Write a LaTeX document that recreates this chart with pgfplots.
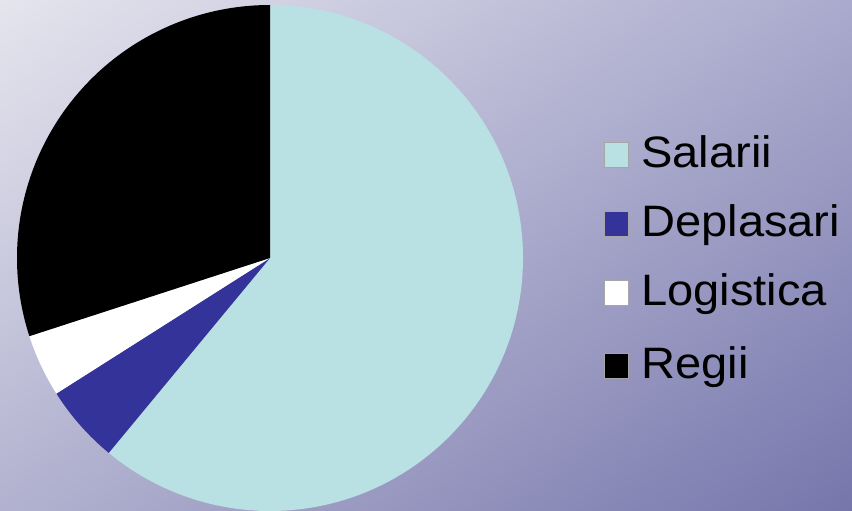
\documentclass[border=0pt]{standalone}
\usepackage{pgfplots}
\pgfplotsset{compat=1.18}
\usetikzlibrary{shadings}
\usepackage{fontspec}
\setmainfont{Liberation Sans}
\usepackage{graphicx}
\definecolor{salarii}{RGB}{185,224,226}
\definecolor{deplasari}{RGB}{51,51,153}
\definecolor{logistica}{RGB}{255,255,255}
\definecolor{regii}{RGB}{0,0,0}
\definecolor{bgtl}{RGB}{229,229,238}
\definecolor{bgbr}{RGB}{118,118,172}
\definecolor{bgur}{RGB}{170,170,205}
\definecolor{bgll}{RGB}{178,178,208}
\begin{document}
\begin{tikzpicture}
\begin{axis}[
  scale only axis, width=852pt, height=511pt,
  xmin=0, xmax=852, ymin=0, ymax=511,
  hide axis, clip=true,
]
% background
\shade[upper left=bgtl, lower right=bgbr, upper right=bgur, lower left=bgll]
  (axis cs:0,0) rectangle (axis cs:852,511);
% pie slices (values in percent), clockwise from 12 o'clock
\xdef\cumangle{90}
\foreach \v/\col in {61/salarii,5/deplasari,4/logistica,30/regii}{
  \pgfmathsetmacro\endangle{\cumangle-3.6*\v}
  \edef\temp{\noexpand\fill[\col] (axis cs:270,253) -- ++(\cumangle:253pt) arc[start angle=\cumangle, end angle=\endangle, radius=253pt] -- cycle;}
  \temp
  \xdef\cumangle{\endangle}
}
% legend
\foreach \y/\col/\lab in {344/salarii/Salarii,275/deplasari/Deplasari,206/logistica/Logistica,133/regii/Regii}{
  \edef\temp{\noexpand\filldraw[fill=\col, draw=gray!70, line width=0.4pt] (axis cs:604,\y) rectangle (axis cs:628.5,\y+24.5);
  \noexpand\node[anchor=base west, inner sep=0pt] at (axis cs:641,\y-1) {\noexpand\scalebox{1.07}[1]{\noexpand\fontsize{44}{52}\noexpand\selectfont \lab}};}
  \temp
}
\end{axis}
\end{tikzpicture}
\end{document}
